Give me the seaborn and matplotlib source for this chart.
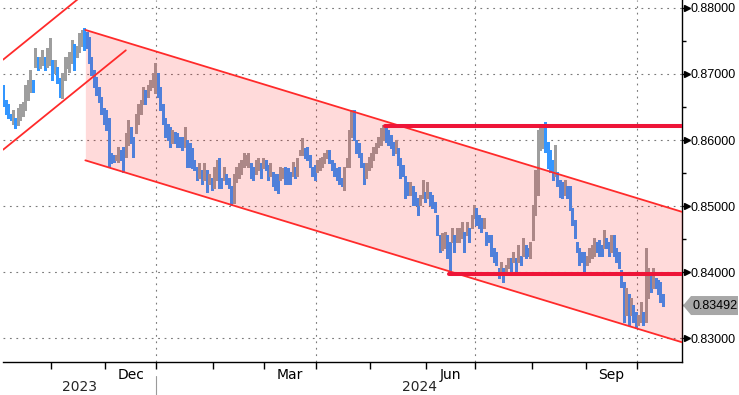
import numpy as np
import pandas as pd
import matplotlib
matplotlib.use("Agg")
import matplotlib.pyplot as plt
import matplotlib.dates as mdates
import matplotlib.transforms as mtransforms
from matplotlib.patches import Polygon
from matplotlib.lines import Line2D
from matplotlib import font_manager
import seaborn as sns

# ---------------- data (EUR/GBP daily bars) ----------------
dates = pd.bdate_range("2023-10-04", "2024-10-15")

high = [
    0.8683, 0.8660, 0.8655, 0.8640, 0.8645, 0.8634, 0.8649, 0.8655, 0.8657, 0.8683,
    0.8691, 0.8706, 0.8691, 0.8740, 0.8725, 0.8725, 0.8736, 0.8725, 0.8739, 0.8755,
    0.8721, 0.8721, 0.8710, 0.8694, 0.8701, 0.8725, 0.8725, 0.8733, 0.8751, 0.8746,
    0.8743, 0.8762, 0.8767, 0.8770, 0.8764, 0.8756, 0.8725, 0.8706, 0.8695, 0.8680,
    0.8665, 0.8649, 0.8645, 0.8634, 0.8580, 0.8577, 0.8577, 0.8589, 0.8585, 0.8589,
    0.8610, 0.8630, 0.8619, 0.8604, 0.8640, 0.8655, 0.8660, 0.8680, 0.8676, 0.8683,
    0.8691, 0.8701, 0.8716, 0.8701, 0.8680, 0.8655, 0.8634, 0.8625, 0.8619, 0.8615,
    0.8612, 0.8610, 0.8604, 0.8604, 0.8619, 0.8600, 0.8595, 0.8588, 0.8570, 0.8559,
    0.8565, 0.8554, 0.8565, 0.8554, 0.8549, 0.8543, 0.8559, 0.8570, 0.8573, 0.8543,
    0.8559, 0.8549, 0.8543, 0.8531, 0.8549, 0.8559, 0.8565, 0.8570, 0.8580, 0.8577,
    0.8580, 0.8565, 0.8559, 0.8570, 0.8573, 0.8565, 0.8573, 0.8570, 0.8562, 0.8565,
    0.8551, 0.8549, 0.8549, 0.8559, 0.8558, 0.8559, 0.8558, 0.8551, 0.8567, 0.8559,
    0.8573, 0.8585, 0.8603, 0.8588, 0.8589, 0.8577, 0.8559, 0.8562, 0.8570, 0.8573,
    0.8574, 0.8580, 0.8585, 0.8585, 0.8570, 0.8565, 0.8558, 0.8559, 0.8543, 0.8559,
    0.8573, 0.8615, 0.8645, 0.8645, 0.8600, 0.8595, 0.8580, 0.8565, 0.8565, 0.8574,
    0.8580, 0.8589, 0.8595, 0.8604, 0.8618, 0.8622, 0.8618, 0.8615, 0.8607, 0.8597,
    0.8600, 0.8588, 0.8573, 0.8562, 0.8546, 0.8536, 0.8536, 0.8531, 0.8521, 0.8512,
    0.8516, 0.8539, 0.8521, 0.8536, 0.8521, 0.8516, 0.8506, 0.8486, 0.8456, 0.8459,
    0.8461, 0.8456, 0.8445, 0.8467, 0.8456, 0.8467, 0.8467, 0.8476, 0.8461, 0.8476,
    0.8467, 0.8486, 0.8501, 0.8497, 0.8486, 0.8482, 0.8482, 0.8461, 0.8456, 0.8456,
    0.8436, 0.8430, 0.8406, 0.8415, 0.8406, 0.8410, 0.8421, 0.8421, 0.8430, 0.8421,
    0.8441, 0.8425, 0.8452, 0.8441, 0.8436, 0.8445, 0.8501, 0.8554, 0.8615, 0.8618,
    0.8622, 0.8627, 0.8597, 0.8585, 0.8570, 0.8592, 0.8551, 0.8539, 0.8536, 0.8539,
    0.8531, 0.8531, 0.8497, 0.8479, 0.8445, 0.8436, 0.8430, 0.8430, 0.8425, 0.8436,
    0.8441, 0.8452, 0.8445, 0.8448, 0.8441, 0.8464, 0.8452, 0.8445, 0.8456, 0.8456,
    0.8436, 0.8430, 0.8403, 0.8385, 0.8376, 0.8366, 0.8361, 0.8350, 0.8339, 0.8335,
    0.8354, 0.8339, 0.8436, 0.8406, 0.8395, 0.8406, 0.8391, 0.8388, 0.8385, 0.8366,
]

low = [
    0.8652, 0.8640, 0.8634, 0.8630, 0.8625, 0.8618, 0.8622, 0.8630, 0.8637, 0.8645,
    0.8660, 0.8673, 0.8673, 0.8710, 0.8706, 0.8709, 0.8713, 0.8706, 0.8710, 0.8713,
    0.8691, 0.8701, 0.8686, 0.8665, 0.8664, 0.8691, 0.8709, 0.8703, 0.8716, 0.8706,
    0.8725, 0.8733, 0.8743, 0.8736, 0.8739, 0.8716, 0.8698, 0.8680, 0.8668, 0.8657,
    0.8640, 0.8625, 0.8615, 0.8559, 0.8565, 0.8567, 0.8570, 0.8567, 0.8570, 0.8551,
    0.8574, 0.8592, 0.8595, 0.8574, 0.8610, 0.8625, 0.8640, 0.8655, 0.8655, 0.8665,
    0.8676, 0.8680, 0.8671, 0.8665, 0.8645, 0.8625, 0.8604, 0.8600, 0.8589, 0.8595,
    0.8595, 0.8589, 0.8589, 0.8585, 0.8589, 0.8559, 0.8559, 0.8558, 0.8554, 0.8539,
    0.8543, 0.8534, 0.8539, 0.8521, 0.8534, 0.8524, 0.8528, 0.8539, 0.8528, 0.8528,
    0.8539, 0.8534, 0.8528, 0.8501, 0.8504, 0.8536, 0.8543, 0.8549, 0.8559, 0.8562,
    0.8559, 0.8543, 0.8539, 0.8549, 0.8554, 0.8543, 0.8558, 0.8554, 0.8539, 0.8546,
    0.8531, 0.8524, 0.8519, 0.8539, 0.8543, 0.8534, 0.8534, 0.8534, 0.8546, 0.8542,
    0.8546, 0.8577, 0.8577, 0.8573, 0.8570, 0.8559, 0.8546, 0.8539, 0.8551, 0.8554,
    0.8559, 0.8565, 0.8573, 0.8565, 0.8554, 0.8546, 0.8539, 0.8534, 0.8531, 0.8524,
    0.8559, 0.8559, 0.8604, 0.8600, 0.8580, 0.8574, 0.8559, 0.8534, 0.8542, 0.8554,
    0.8559, 0.8570, 0.8580, 0.8589, 0.8592, 0.8600, 0.8597, 0.8592, 0.8588, 0.8577,
    0.8580, 0.8562, 0.8542, 0.8546, 0.8512, 0.8516, 0.8516, 0.8501, 0.8501, 0.8486,
    0.8501, 0.8512, 0.8506, 0.8512, 0.8501, 0.8497, 0.8491, 0.8456, 0.8430, 0.8433,
    0.8436, 0.8421, 0.8400, 0.8445, 0.8430, 0.8445, 0.8445, 0.8452, 0.8430, 0.8456,
    0.8445, 0.8467, 0.8482, 0.8471, 0.8467, 0.8461, 0.8467, 0.8441, 0.8445, 0.8425,
    0.8415, 0.8410, 0.8391, 0.8395, 0.8385, 0.8400, 0.8406, 0.8400, 0.8415, 0.8400,
    0.8415, 0.8410, 0.8425, 0.8421, 0.8425, 0.8421, 0.8448, 0.8486, 0.8516, 0.8585,
    0.8588, 0.8582, 0.8558, 0.8551, 0.8539, 0.8546, 0.8531, 0.8513, 0.8512, 0.8516,
    0.8512, 0.8494, 0.8471, 0.8452, 0.8430, 0.8410, 0.8415, 0.8400, 0.8410, 0.8415,
    0.8421, 0.8425, 0.8430, 0.8425, 0.8425, 0.8436, 0.8436, 0.8425, 0.8430, 0.8425,
    0.8415, 0.8406, 0.8377, 0.8324, 0.8335, 0.8320, 0.8335, 0.8324, 0.8315, 0.8320,
    0.8324, 0.8320, 0.8324, 0.8361, 0.8370, 0.8376, 0.8376, 0.8366, 0.8354, 0.8349,
]

last_price = 0.83492

y_ticks = [0.83, 0.84, 0.85, 0.86, 0.87, 0.88]
y_minor = [0.835, 0.845, 0.855, 0.865, 0.875]
month_labels = {"2023-12": "Dec", "2024-03": "Mar", "2024-06": "Jun", "2024-09": "Sep"}
year_labels = ["2023", "2024"]

# trend lines: (date, value) anchors
asc_upper = [("2023-10-04", 0.87218), ("2023-11-23", 0.88301)]
asc_lower = [("2023-10-04", 0.85854), ("2023-12-13", 0.87359)]
desc_upper = [("2023-11-20 12:00", 0.87668), ("2024-10-15", 0.85000)]
desc_lower = [("2023-11-20 12:00", 0.85692), ("2024-10-15", 0.83024)]
resistance = ("2024-05-08 18:00", 0.86212)
support = ("2024-06-13 18:00", 0.83977)

# ---------------- helpers ----------------
n = len(dates)
idx = np.arange(n)
dnum = mdates.date2num(dates)


def pos(d):
    return float(np.interp(mdates.date2num(pd.Timestamp(d)), dnum, idx))


X_LEFT, X_RIGHT = -0.08, n - 1 + 7.8
Y_LOW, Y_HIGH = 0.826364, 0.881212

BLUE = "#3396ff"
GRAY = "#9e9e9e"
RED = "#ff2a2a"
CRIMSON = "#ee1538"
GRID = "#7a7a7a"

sns.set_theme(style="white")
avail = {f.name for f in font_manager.fontManager.ttflist}
narrow = "Liberation Sans Narrow" if "Liberation Sans Narrow" in avail else "DejaVu Sans"
plt.rcParams["font.family"] = ["Liberation Sans", "DejaVu Sans"]

W, H = 739, 395
fig = plt.figure(figsize=(W / 100, H / 100), dpi=100)
fig.patch.set_facecolor("white")
ax = fig.add_axes([3 / W, 33 / H, 679 / W, 362 / H])
ax.set_facecolor("white")
ax.set_xlim(X_LEFT, X_RIGHT)
ax.set_ylim(Y_LOW, Y_HIGH)

# gridlines
months = dates.to_period("M")
first_idx = [i for i in range(1, n) if months[i] != months[i - 1]]
bounds = [i - 0.5 for i in first_idx]
qbounds = [i - 0.5 for i in first_idx if dates[i].month in (1, 4, 7, 10)]
for v in y_ticks:
    ax.axhline(v, color=GRID, lw=0.8, ls=(0, (1.6, 4.2)), zorder=1)
for q in qbounds:
    ax.axvline(q, color=GRID, lw=0.8, ls=(0, (1.6, 4.2)), zorder=1)

# price bars
hi = np.array(high)
lo = np.array(low)
mid = (hi + lo) / 2
cols = [BLUE] + [BLUE if mid[i] < mid[i - 1] else GRAY for i in range(1, n)]
ax.vlines(idx, lo, hi, colors=cols, linewidth=1.05, zorder=2, antialiased=False)

# channel fill
p1, u1 = pos(desc_upper[0][0]), desc_upper[0][1]
p2, u2 = pos(desc_upper[1][0]), desc_upper[1][1]
q1, l1 = pos(desc_lower[0][0]), desc_lower[0][1]
q2, l2 = pos(desc_lower[1][0]), desc_lower[1][1]
su = (u2 - u1) / (p2 - p1)
sl = (l2 - l1) / (q2 - q1)
ur = u1 + su * (X_RIGHT - p1)
lr = l1 + sl * (X_RIGHT - q1)
ax.fill_between([p1, X_RIGHT], [u1, ur], [l1, lr], color=(1, 0, 0), alpha=0.145,
                linewidth=0, zorder=3)

# trend lines via seaborn
rows = []
for name, seg in [("au", asc_upper), ("al", asc_lower)]:
    for d, v in seg:
        rows.append({"line": name, "x": pos(d), "y": v})
rows += [{"line": "du", "x": p1, "y": u1}, {"line": "du", "x": X_RIGHT, "y": ur},
         {"line": "dl", "x": q1, "y": l1}, {"line": "dl", "x": X_RIGHT, "y": lr}]
tl = pd.DataFrame(rows)
sns.lineplot(data=tl, x="x", y="y", units="line", estimator=None, color=RED,
             lw=1.3, ax=ax, zorder=4, legend=False)

hl = pd.DataFrame([
    {"line": "r", "x": pos(resistance[0]), "y": resistance[1]},
    {"line": "r", "x": X_RIGHT, "y": resistance[1]},
    {"line": "s", "x": pos(support[0]), "y": support[1]},
    {"line": "s", "x": X_RIGHT, "y": support[1]},
])
sns.lineplot(data=hl, x="x", y="y", units="line", estimator=None, color=CRIMSON,
             lw=2.9, ax=ax, zorder=5, legend=False)
ax.set_xlabel("")
ax.set_ylabel("")

# spines
for s in ("left", "top"):
    ax.spines[s].set_visible(False)
for s in ("right", "bottom"):
    ax.spines[s].set_visible(True)
    ax.spines[s].set_color("black")
    ax.spines[s].set_linewidth(1.0)

# y axis (right)
ax.yaxis.tick_right()
ax.set_yticks(y_ticks)
ax.set_yticklabels([f"{v:.5f}" for v in y_ticks])
ax.set_yticks(y_minor, minor=True)
ax.tick_params(axis="y", which="major", right=True, left=False, length=3, width=1,
               pad=3.2, labelsize=9, colors="black", direction="out")
ax.tick_params(axis="y", which="minor", right=True, left=False, length=3, width=1,
               color="black", direction="out")
tri = mtransforms.blended_transform_factory(ax.transAxes, ax.transData) + \
    mtransforms.ScaledTranslation(5 / 100, 0, fig.dpi_scale_trans)
ax.plot([1.0] * len(y_ticks), y_ticks, transform=tri, ls="none", marker=">",
        ms=4.5, color="black", clip_on=False, zorder=6)

# x axis
mid_pos, mid_lab = [], []
for key, lab in month_labels.items():
    sel = idx[np.array([str(m) == key for m in months])]
    mid_pos.append(sel.mean())
    mid_lab.append(lab)
ax.set_xticks(mid_pos)
ax.set_xticklabels(mid_lab, fontfamily=narrow)
ax.set_xticks(bounds, minor=True)
ax.tick_params(axis="x", which="major", bottom=True, length=0, pad=4, labelsize=10,
               colors="black")
ax.tick_params(axis="x", which="minor", bottom=True, length=5, width=1, color="black",
               direction="out")

# year row
ytr = mtransforms.blended_transform_factory(ax.transData, fig.transFigure)
ysep = [i - 0.5 for i in first_idx if dates[i].month == 1][0]
fig.add_artist(Line2D([ysep, ysep], [0, 19 / H], transform=ytr, color="#9a9a9a", lw=0.8))
fig.text((X_LEFT + ysep) / 2, 8 / H, year_labels[0], transform=ytr, ha="center",
         va="center", fontsize=10, fontfamily=narrow)
fig.text((ysep + X_RIGHT) / 2, 8 / H, year_labels[1], transform=ytr, ha="center",
         va="center", fontsize=10, fontfamily=narrow)

# last price tag
fig.canvas.draw()
yd = ax.transData.transform((0, last_price))[1]
xs = ax.transAxes.transform((1.0, 0))[0]
pts = [(xs + 1, yd), (xs + 9, yd + 9.5), (W - 1, yd + 9.5), (W - 1, yd - 9.5), (xs + 9, yd - 9.5)]
fig.add_artist(Polygon(pts, closed=True, transform=mtransforms.IdentityTransform(),
                       facecolor="#a7a7a7", edgecolor="none", zorder=7))
fig.text((xs + 9 + W - 1) / 2 + 1, yd, f"{last_price:.5f}",
         transform=mtransforms.IdentityTransform(), ha="center", va="center",
         fontsize=9, color="black", zorder=8)

fig.savefig("out.png", dpi=100, facecolor="white")
